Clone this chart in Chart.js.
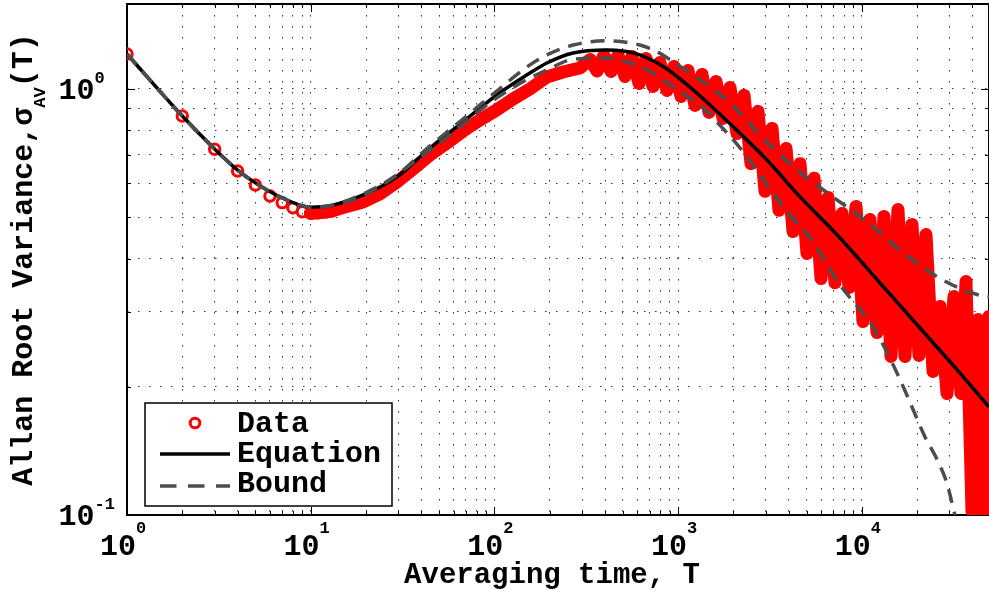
<!DOCTYPE html>
<html>
<head>
<meta charset="utf-8">
<title>Allan root variance</title>
<script src="https://cdn.jsdelivr.net/npm/chart.js@4.4.0/dist/chart.umd.min.js"></script>
<style>
  html, body { margin: 0; padding: 0; background: #fff; }
  canvas { display: block; }
</style>
</head>
<body>
<canvas id="allanChart" width="989" height="590"></canvas>
<script>
var dataT = [1, 2, 3, 4, 5, 6, 7, 8, 9, 10, 11, 12, 13, 15, 19.3, 23.8, 29.5, 36.1, 44.6, 55.2, 67.5, 83.5,
  103, 126, 156, 193, 236, 292,
  332, 362, 395, 431, 471, 514, 561, 613, 669, 730, 797, 870, 950, 1037, 1132, 1236, 1349, 1473,
  1608, 1755, 1916, 2092, 2284, 2494, 2722, 2972, 3245, 3542, 3868, 4222, 4609, 5031, 5495, 5996,
  6546, 7146, 7804, 8518, 9299, 10150, 11080, 12100, 13210, 14420, 15740, 17180, 18760, 20480,
  22360, 24410, 26650, 29100, 31770, 34670, 36920, 39810, 42930, 46270, 49250];
var dataSigma = [1.208, 0.864, 0.722, 0.642, 0.595, 0.561, 0.541, 0.526, 0.515, 0.511, 0.512, 0.514, 0.517, 0.527,
  0.543, 0.567, 0.605, 0.649, 0.700, 0.747, 0.797, 0.846,
  0.893, 0.947, 1.000, 1.067, 1.096, 1.120,
  1.173, 1.102, 1.199, 1.099, 1.199, 1.070, 1.192, 1.030, 1.179, 1.014, 1.154, 0.992, 1.129, 0.960,
  1.105, 0.915, 1.082, 0.881, 1.041, 0.853, 1.008, 0.786, 0.966, 0.668, 0.886, 0.575, 0.808, 0.519,
  0.725, 0.463, 0.668, 0.411, 0.617, 0.359, 0.556, 0.351, 0.510, 0.342, 0.530, 0.2845, 0.494, 0.268,
  0.502, 0.2355, 0.521, 0.2355, 0.481, 0.2368, 0.4554, 0.2173, 0.3086, 0.1929, 0.3258, 0.1929,
  0.3533, 0.1019, 0.2877, 0.1019, 0.2924];

// fitted equation
var eqT = [1, 2, 3, 4, 5, 7, 10, 13, 19.3, 29.5, 44.6, 67.5, 103, 156, 193, 268, 410, 501, 620, 870,
  1316, 1991, 3048, 4610, 7608, 12565, 20740, 34240, 49250];
var eqSigma = [1.208, 0.864, 0.723, 0.645, 0.602, 0.555, 0.528, 0.533, 0.564, 0.622, 0.727, 0.837, 0.968,
  1.090, 1.151, 1.215, 1.235, 1.228, 1.202, 1.114, 0.963, 0.816, 0.681, 0.558, 0.447, 0.3504, 0.2748,
  0.2154, 0.1793];

// upper and lower bound
var upperT = [1, 2, 3, 4, 5, 7, 10, 13, 19.3, 29.5, 44.6, 67.5, 103, 156, 193, 268, 410, 620, 768, 938,
  1437, 1916, 3047, 4609, 6969, 9070, 12100, 15360, 19980, 25350, 33820, 45680, 49250];
var upperSigma = [1.208, 0.864, 0.723, 0.645, 0.602, 0.555, 0.528, 0.533, 0.567, 0.628, 0.735, 0.850, 0.989,
  1.139, 1.202, 1.268, 1.298, 1.268, 1.223, 1.159, 1.022, 0.927, 0.750, 0.638, 0.558, 0.514, 0.4667,
  0.4256, 0.3904, 0.3639, 0.3410, 0.3265, 0.3249];
var lowerT = [1, 2, 3, 4, 5, 7, 10, 13, 19.3, 44.6, 103, 156, 193, 268, 410, 620, 938, 1437, 1588, 2173,
  3086, 3725, 5224, 7608, 11510, 15550, 18760, 22080, 25670, 29100, 32160, 34240];
var lowerSigma = [1.208, 0.864, 0.723, 0.645, 0.602, 0.555, 0.528, 0.533, 0.561, 0.719, 0.953, 1.061, 1.108,
  1.174, 1.181, 1.128, 1.013, 0.885, 0.846, 0.727, 0.592, 0.528, 0.447, 0.3467, 0.2763, 0.2154, 0.1793,
  0.1525, 0.1350, 0.1185, 0.1000, 0.0922];

var xTickValues = [1, 10, 100, 1000, 10000];
var xTickLabels = ['10^0', '10^1', '10^2', '10^3', '10^4'];
var yTickValues = [0.1, 1];
var yTickLabels = ['10^-1', '10^0'];
var legendLabels = ['Data', 'Equation', 'Bound'];
var xTitle = 'Averaging time, T';
var yTitleParts = ['Allan Root Variance,\u03c3', 'AV', '(T)'];

var X_MIN = 1, X_MAX = 49250, Y_MIN = 0.1, Y_MAX = 1.583;
var RED = '#ff0000', GRAY = '#4d4d4d';
var FONT = '"Liberation Mono", "DejaVu Sans Mono", monospace';

// minor grid positions: 1..9 x each decade
function decadeGrid(majors, max) {
  var out = [];
  majors.forEach(function(m) {
    for (var k = 1; k <= 9; k++) {
      var v = k * m;
      if (v <= max * 1.0001) out.push(v);
    }
  });
  return out;
}
var xGrid = decadeGrid(xTickValues, X_MAX);
var yGrid = decadeGrid(yTickValues, Y_MAX);

function pts(xs, ys) {
  return xs.map(function(x, i) { return {x: x, y: ys[i]}; });
}
function isMajor(v, majors) {
  return majors.some(function(m) { return Math.abs(m - v) < m * 1e-6; });
}

var matlabLook = {
  id: 'matlabLook',
  beforeDatasetsDraw: function(chart) {
    var ctx = chart.ctx, a = chart.chartArea;
    var xs = chart.scales.x, ys = chart.scales.y;
    ctx.save();
    ctx.strokeStyle = '#000';
    ctx.lineWidth = 1;
    ctx.beginPath();
    xGrid.forEach(function(v) {
      var px = Math.round(xs.getPixelForValue(v)) + 0.5;
      var len = isMajor(v, xTickValues) ? 8 : 4;
      ctx.moveTo(px, a.bottom); ctx.lineTo(px, a.bottom - len);
      ctx.moveTo(px, a.top); ctx.lineTo(px, a.top + len);
    });
    yGrid.forEach(function(v) {
      var py = Math.round(ys.getPixelForValue(v)) + 0.5;
      var len = isMajor(v, yTickValues) ? 8 : 4;
      ctx.moveTo(a.left, py); ctx.lineTo(a.left + len, py);
      ctx.moveTo(a.right, py); ctx.lineTo(a.right - len, py);
    });
    ctx.stroke();
    ctx.lineWidth = 2;
    ctx.strokeRect(a.left, a.top, a.right - a.left, a.bottom - a.top);
    ctx.restore();
  },
  afterDraw: function(chart) {
    var ctx = chart.ctx, a = chart.chartArea;
    var xs = chart.scales.x, ys = chart.scales.y;
    ctx.save();
    ctx.fillStyle = '#000';
    ctx.textAlign = 'left';
    ctx.textBaseline = 'alphabetic';

    // x tick labels
    xTickValues.forEach(function(v, i) {
      var parts = xTickLabels[i].split('^');
      ctx.font = 'bold 30px ' + FONT;
      var wb = ctx.measureText(parts[0]).width;
      ctx.font = 'bold 17px ' + FONT;
      var we = ctx.measureText(parts[1]).width;
      var x0 = xs.getPixelForValue(v) - (wb + we) / 2 - 4;
      ctx.font = 'bold 30px ' + FONT;
      ctx.fillText(parts[0], x0, a.bottom + 40);
      ctx.font = 'bold 17px ' + FONT;
      ctx.fillText(parts[1], x0 + wb, a.bottom + 18);
    });

    // y tick labels
    yTickValues.forEach(function(v, i) {
      var parts = yTickLabels[i].split('^');
      var py = ys.getPixelForValue(v);
      ctx.font = 'bold 30px ' + FONT;
      var wb = ctx.measureText(parts[0]).width;
      ctx.fillText(parts[0], 58.5, py + 10);
      ctx.font = 'bold 17px ' + FONT;
      ctx.fillText(parts[1], 58.5 + wb, py - 6);
    });

    // axis titles
    ctx.font = 'bold 29px ' + FONT;
    ctx.textAlign = 'center';
    ctx.fillText(xTitle, 552, 583);

    ctx.textAlign = 'left';
    ctx.save();
    ctx.translate(32, (a.top + a.bottom) / 2);
    ctx.rotate(-Math.PI / 2);
    ctx.font = 'bold 30px ' + FONT;
    var w0 = ctx.measureText(yTitleParts[0]).width;
    var w2 = ctx.measureText(yTitleParts[2]).width;
    ctx.font = 'bold 17px ' + FONT;
    var w1 = ctx.measureText(yTitleParts[1]).width;
    var sx = -(w0 + w1 + w2) / 2;
    ctx.font = 'bold 30px ' + FONT;
    ctx.fillText(yTitleParts[0], sx, 0);
    ctx.fillText(yTitleParts[2], sx + w0 + w1, 0);
    ctx.font = 'bold 17px ' + FONT;
    ctx.fillText(yTitleParts[1], sx + w0, 13);
    ctx.restore();

    // legend box
    ctx.fillStyle = '#fff';
    ctx.fillRect(145, 403, 247, 103);
    ctx.strokeStyle = '#000';
    ctx.lineWidth = 1.5;
    ctx.strokeRect(145, 403, 247, 103);

    ctx.strokeStyle = RED;
    ctx.lineWidth = 3;
    ctx.beginPath();
    ctx.arc(195, 423, 4.8, 0, Math.PI * 2);
    ctx.stroke();

    ctx.strokeStyle = '#000';
    ctx.lineWidth = 3.5;
    ctx.beginPath();
    ctx.moveTo(160, 454); ctx.lineTo(230, 454);
    ctx.stroke();

    ctx.strokeStyle = GRAY;
    ctx.setLineDash([16.5, 11.5]);
    ctx.beginPath();
    ctx.moveTo(160, 486); ctx.lineTo(230, 486);
    ctx.stroke();
    ctx.setLineDash([]);

    ctx.fillStyle = '#000';
    ctx.font = 'bold 30px ' + FONT;
    ctx.fillText(legendLabels[0], 237, 432);
    ctx.fillText(legendLabels[1], 237, 462);
    ctx.fillText(legendLabels[2], 237, 492);
    ctx.restore();
  }
};

var ctx = document.getElementById('allanChart').getContext('2d');
var allanChart = new Chart(ctx, {
  type: 'line',
  data: {
    datasets: [{
      label: 'Bound',
      data: pts(upperT, upperSigma),
      borderColor: GRAY,
      borderWidth: 3.5,
      borderDash: [14, 9],
      pointRadius: 0,
      cubicInterpolationMode: 'monotone',
      fill: false,
      order: 0
    }, {
      label: 'Bound (lower)',
      data: pts(lowerT, lowerSigma),
      borderColor: GRAY,
      borderWidth: 3.5,
      borderDash: [14, 9],
      pointRadius: 0,
      cubicInterpolationMode: 'monotone',
      fill: false,
      order: 0
    }, {
      label: 'Equation',
      data: pts(eqT, eqSigma),
      borderColor: '#000',
      borderWidth: 3.5,
      pointRadius: 0,
      cubicInterpolationMode: 'monotone',
      fill: false,
      order: 1
    }, {
      label: 'Data',
      data: pts(dataT, dataSigma),
      borderColor: RED,
      borderWidth: 13,
      borderJoinStyle: 'round',
      borderCapStyle: 'round',
      tension: 0,
      fill: false,
      pointRadius: function(c) { return c.raw && c.raw.x <= 13 ? 5.2 : 0; },
      pointBorderWidth: 3,
      pointBorderColor: RED,
      pointBackgroundColor: 'rgba(0,0,0,0)',
      segment: {
        borderColor: function(c) { return c.p0.parsed.x < 9.99 ? 'rgba(0,0,0,0)' : RED; }
      },
      order: 2
    }]
  },
  options: {
    responsive: false,
    devicePixelRatio: 1,
    animation: false,
    events: [],
    layout: { autoPadding: false, padding: { top: 4, right: 0, bottom: 0, left: 0 } },
    plugins: {
      legend: { display: false },
      tooltip: { enabled: false }
    },
    scales: {
      x: {
        type: 'logarithmic',
        position: 'bottom',
        min: X_MIN,
        max: X_MAX,
        afterBuildTicks: function(scale) {
          scale.ticks = xGrid.map(function(v) { return {value: v}; });
        },
        afterFit: function(scale) { scale.height = 75; },
        ticks: { display: false },
        grid: { color: 'rgba(0,0,0,0.8)', lineWidth: 1, drawTicks: false },
        border: { display: false, dash: [1.5, 9.5] }
      },
      y: {
        type: 'logarithmic',
        position: 'left',
        min: Y_MIN,
        max: Y_MAX,
        afterBuildTicks: function(scale) {
          scale.ticks = yGrid.map(function(v) { return {value: v}; });
        },
        afterFit: function(scale) { scale.width = 127; },
        ticks: { display: false },
        grid: { color: 'rgba(0,0,0,0.8)', lineWidth: 1, drawTicks: false },
        border: { display: false, dash: [1.5, 9.5] }
      }
    }
  },
  plugins: [matlabLook]
});
</script>
</body>
</html>
